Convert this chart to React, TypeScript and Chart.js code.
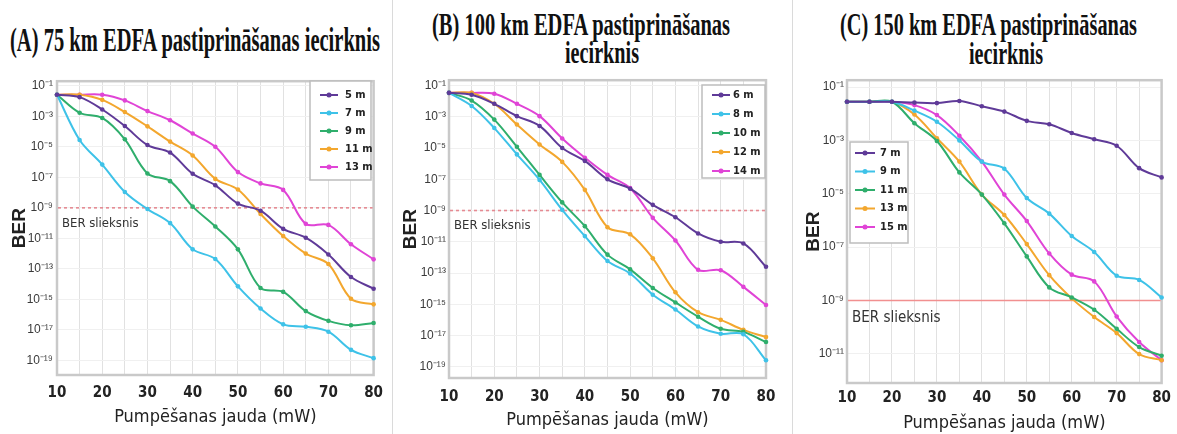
import React, { useEffect, useLayoutEffect, useRef } from 'react';
import { Chart, registerables } from 'chart.js';

Chart.register(...registerables);

// ---------- data ----------
const POWER_MW = [10, 15, 20, 25, 30, 35, 40, 45, 50, 55, 60, 65, 70, 75, 80];

const A_LABELS = ['5 m', '7 m', '9 m', '11 m', '13 m'];
const A_5M = [2.6e-2, 1.8e-2, 2.8e-3, 2.3e-4, 1.3e-5, 4.2e-6, 1.7e-7, 3.0e-8, 1.9e-9, 6.5e-10, 4.2e-11, 1.1e-11, 8.7e-13, 2.9e-14, 5.0e-15];
const A_7M = [2.6e-2, 2.8e-5, 6.8e-7, 1.1e-8, 8.3e-10, 1.0e-10, 1.9e-12, 4.4e-13, 7.1e-15, 2.5e-16, 2.3e-17, 1.6e-17, 7.6e-18, 4.9e-19, 1.4e-19];
const A_9M = [2.6e-2, 1.7e-3, 7.8e-4, 3.1e-5, 1.8e-7, 5.6e-8, 1.2e-9, 6.0e-11, 1.9e-12, 5.6e-15, 3.1e-15, 1.7e-16, 3.9e-17, 2.0e-17, 2.8e-17];
const A_11M = [2.6e-2, 2.6e-2, 1.2e-2, 1.9e-3, 2.2e-4, 2.2e-5, 2.7e-6, 7.9e-8, 1.6e-8, 3.9e-10, 1.4e-11, 1.0e-12, 2.1e-13, 1.1e-15, 4.7e-16];
const A_13M = [2.6e-2, 2.6e-2, 2.6e-2, 1.1e-2, 2.2e-3, 5.5e-4, 7.4e-5, 1.0e-5, 2.2e-7, 4.0e-8, 1.5e-8, 8.9e-11, 7.6e-11, 4.1e-12, 4.2e-13];

const B_LABELS = ['6 m', '8 m', '10 m', '12 m', '14 m'];
const B_6M = [3.4e-2, 2.6e-2, 6.8e-3, 1.1e-3, 2.6e-4, 1.0e-5, 1.5e-6, 1.0e-7, 2.5e-8, 2.3e-9, 3.7e-10, 3.4e-11, 1.0e-11, 7.8e-12, 2.5e-13];
const B_8M = [3.4e-2, 4.9e-3, 1.9e-4, 3.9e-6, 9.1e-8, 1.1e-9, 2.3e-11, 5.9e-13, 9.3e-14, 4.1e-15, 4.6e-16, 3.8e-17, 1.3e-17, 1.2e-17, 2.6e-19];
const B_10M = [3.4e-2, 1.1e-2, 6.6e-4, 1.2e-5, 1.9e-7, 3.3e-9, 1.0e-10, 1.5e-12, 1.7e-13, 1.1e-14, 1.3e-15, 1.6e-16, 2.7e-17, 1.7e-17, 3.8e-18];
const B_12M = [3.4e-2, 3.4e-2, 6.8e-3, 3.2e-4, 1.7e-5, 1.3e-6, 2.1e-8, 8.5e-11, 3.0e-11, 8.7e-13, 5.8e-15, 3.1e-16, 1.0e-16, 2.3e-17, 7.9e-18];
const B_14M = [3.4e-2, 3.4e-2, 3.0e-2, 6.8e-3, 1.1e-3, 4.1e-5, 2.4e-6, 1.9e-7, 2.7e-8, 3.4e-10, 1.2e-11, 1.6e-13, 1.5e-13, 1.3e-14, 8.9e-16];

const C_LABELS = ['7 m', '9 m', '11 m', '13 m', '15 m'];
const C_7M = [2.8e-2, 2.8e-2, 2.8e-2, 2.6e-2, 2.5e-2, 3.0e-2, 1.9e-2, 1.2e-2, 5.4e-3, 4.0e-3, 1.9e-3, 1.1e-3, 6.3e-4, 9.1e-5, 4.1e-5];
const C_9M = [2.8e-2, 2.8e-2, 2.8e-2, 1.3e-2, 5.0e-3, 1.0e-3, 1.6e-4, 8.7e-5, 6.9e-6, 1.8e-6, 2.6e-7, 6.6e-8, 8.5e-9, 5.9e-9, 1.3e-9];
const C_11M = [2.8e-2, 2.8e-2, 2.8e-2, 4.4e-3, 9.5e-4, 6.3e-5, 9.3e-6, 7.8e-7, 4.5e-8, 3.1e-9, 1.3e-9, 4.5e-10, 8.7e-11, 1.8e-11, 8.5e-12];
const C_13M = [2.8e-2, 2.8e-2, 2.8e-2, 9.3e-3, 1.2e-3, 1.6e-4, 9.3e-6, 1.6e-6, 1.3e-7, 8.9e-9, 1.2e-9, 2.4e-10, 6.0e-11, 9.8e-12, 5.8e-12];
const C_15M = [2.8e-2, 2.8e-2, 2.8e-2, 2.1e-2, 8.9e-3, 1.5e-3, 1.6e-4, 9.3e-6, 9.5e-7, 5.8e-8, 9.3e-9, 5.2e-9, 2.5e-10, 2.8e-11, 5.8e-12];

const Y_EXPONENTS_AB = [-1, -3, -5, -7, -9, -11, -13, -15, -17, -19];
const Y_EXPONENTS_C = [-1, -3, -5, -7, -9, -11];

const BER_THRESHOLD = 1e-9;
const THRESHOLD_LABEL = 'BER slieksnis';
const X_TITLE = 'Pumpēšanas jauda (mW)';
const Y_TITLE = 'BER';

const TITLE_A = '(A) 75 km EDFA pastiprināšanas iecirknis';
const TITLE_B1 = '(B) 100 km EDFA pastiprināšanas';
const TITLE_C1 = '(C) 150 km EDFA pastiprināšanas';
const TITLE_2 = 'iecirknis';

// ---------- styling ----------
const COLORS = ['#5f3a98', '#3ec2e8', '#2fae6c', '#f3a72e', '#e044d6'];
const NARROW = "'Liberation Sans Narrow', 'DejaVu Sans Condensed', 'Liberation Sans', sans-serif";
const SANS = "'Liberation Sans', Arial, sans-serif";
const SERIF = "'Liberation Serif', 'Times New Roman', serif";
const CANVAS_TOP = 70;
const CANVAS_H = 364;

const SUP: Record<string, string> = {
  '-': '\u207B', '0': '\u2070', '1': '\u00B9', '2': '\u00B2', '3': '\u00B3',
  '4': '\u2074', '5': '\u2075', '6': '\u2076', '7': '\u2077', '8': '\u2078', '9': '\u2079',
};
const sup = (n: number) => String(n).split('').map((c) => SUP[c] || c).join('');

type PanelCfg = {
  left: number;
  width: number;
  padTop: number;
  padRight: number;
  yAxisWidth: number;
  xAxisHeight: number;
  yMin: number;
  yMax: number;
  yExps: number[];
  yTickPad: number;
  yTitlePad: number;
  xTickPad: number;
  xTitlePad: number;
  labels: string[];
  series: number[][];
  threshDash: number[];
  threshLabelDy: number;
  threshLabelSize: number;
  legend: { x: number; y: number; w: number; h: number; firstY: number; step: number; x0: number; x1: number; tx: number };
};

const PANELS: PanelCfg[] = [
  {
    left: 0, width: 392, padTop: 7, padRight: 16, yAxisWidth: 57, xAxisHeight: 59,
    yMin: 1.1e-20, yMax: 2.0e-1, yExps: Y_EXPONENTS_AB, yTickPad: 4, yTitlePad: 8,
    xTickPad: 9, xTitlePad: 6,
    labels: A_LABELS, series: [A_5M, A_7M, A_9M, A_11M, A_13M],
    threshDash: [3, 3], threshLabelDy: 16, threshLabelSize: 13,
    legend: { x: 310, y: 11, w: 61, h: 99, firstY: 25, step: 18, x0: 320, x1: 338, tx: 345 },
  },
  {
    left: 393, width: 397, padTop: 8, padRight: 24, yAxisWidth: 56, xAxisHeight: 56,
    yMin: 1.9e-20, yMax: 2.2e-1, yExps: Y_EXPONENTS_AB, yTickPad: 3, yTitlePad: 6,
    xTickPad: 10, xTitlePad: 3,
    labels: B_LABELS, series: [B_6M, B_8M, B_10M, B_12M, B_14M],
    threshDash: [3, 3], threshLabelDy: 15, threshLabelSize: 13,
    legend: { x: 309, y: 15, w: 63, h: 93, firstY: 25, step: 19, x0: 319, x1: 337, tx: 340 },
  },
  {
    left: 793, width: 384, padTop: 8, padRight: 12, yAxisWidth: 54, xAxisHeight: 51,
    yMin: 8.1e-13, yMax: 1.8e-1, yExps: Y_EXPONENTS_C, yTickPad: 3, yTitlePad: 9,
    xTickPad: 6, xTitlePad: 0,
    labels: C_LABELS, series: [C_7M, C_9M, C_11M, C_13M, C_15M],
    threshDash: [], threshLabelDy: 18, threshLabelSize: 15,
    legend: { x: 57, y: 72, w: 58, h: 101, firstY: 83, step: 18.5, x0: 62, x1: 82, tx: 87 },
  },
];

function makeDecor(cfg: PanelCfg) {
  return {
    id: 'panelDecor',
    beforeDatasetsDraw(chart: any) {
      const { ctx, chartArea, scales } = chart;
      ctx.save();
      ctx.strokeStyle = '#c9c9c9';
      ctx.lineWidth = 2.5;
      ctx.strokeRect(chartArea.left, chartArea.top, chartArea.right - chartArea.left, chartArea.bottom - chartArea.top);
      const y = scales.y.getPixelForValue(BER_THRESHOLD);
      ctx.strokeStyle = cfg.threshDash.length ? '#e58a92' : '#f19090';
      ctx.lineWidth = 1.6;
      ctx.setLineDash(cfg.threshDash);
      ctx.beginPath();
      ctx.moveTo(chartArea.left + 1, y);
      ctx.lineTo(chartArea.right - 1, y);
      ctx.stroke();
      ctx.setLineDash([]);
      ctx.fillStyle = '#333';
      ctx.font = `${cfg.threshLabelSize}px ${NARROW}`;
      ctx.textBaseline = 'middle';
      ctx.textAlign = 'left';
      ctx.fillText(THRESHOLD_LABEL, chartArea.left + 5, y + cfg.threshLabelDy);
      ctx.restore();
    },
    afterDatasetsDraw(chart: any) {
      const { ctx } = chart;
      const L = cfg.legend;
      ctx.save();
      ctx.fillStyle = '#ffffff';
      ctx.fillRect(L.x, L.y, L.w, L.h);
      ctx.strokeStyle = '#bdbdbd';
      ctx.lineWidth = 1.5;
      ctx.strokeRect(L.x, L.y, L.w, L.h);
      chart.data.datasets.forEach((ds: any, i: number) => {
        const yy = L.firstY + i * L.step;
        ctx.strokeStyle = ds.borderColor;
        ctx.lineWidth = 2;
        ctx.beginPath();
        ctx.moveTo(L.x0, yy);
        ctx.lineTo(L.x1, yy);
        ctx.stroke();
        ctx.fillStyle = ds.borderColor;
        ctx.beginPath();
        ctx.arc((L.x0 + L.x1) / 2, yy, 2.5, 0, Math.PI * 2);
        ctx.fill();
        ctx.fillStyle = '#222';
        ctx.font = `bold 11px ${NARROW}`;
        ctx.textBaseline = 'middle';
        ctx.textAlign = 'left';
        ctx.fillText(ds.label, L.tx, yy);
      });
      ctx.restore();
    },
  };
}

function Panel({ cfg }: { cfg: PanelCfg }) {
  const ref = useRef<HTMLCanvasElement>(null);
  useEffect(() => {
    const chart = new Chart(ref.current as HTMLCanvasElement, {
      type: 'line',
      data: {
        datasets: cfg.labels.map((label, i) => ({
          label,
          data: POWER_MW.map((x, j) => ({ x, y: cfg.series[i][j] })),
          borderColor: COLORS[i],
          backgroundColor: COLORS[i],
          borderWidth: 2,
          pointRadius: 2.3,
          pointBorderWidth: 0,
          pointHoverRadius: 2.3,
          tension: 0.35,
          clip: false as any,
        })),
      },
      options: {
        animation: false,
        responsive: false,
        devicePixelRatio: 1,
        layout: { padding: { top: cfg.padTop, right: cfg.padRight, left: 0, bottom: 0 } },
        plugins: { legend: { display: false }, title: { display: false }, tooltip: { enabled: false } },
        scales: {
          x: {
            type: 'linear',
            min: 10,
            max: 80,
            afterFit: (s: any) => { s.height = cfg.xAxisHeight; },
            ticks: {
              stepSize: 5,
              autoSkip: false,
              maxRotation: 0,
              padding: cfg.xTickPad,
              color: '#222',
              font: { family: NARROW, size: 15, weight: 'bold' },
              callback: (v: any) => (Number(v) % 10 === 0 ? String(v) : ''),
            },
            grid: { color: '#e1e1e1', lineWidth: 1, drawTicks: false },
            border: { display: false },
            title: {
              display: true,
              text: X_TITLE,
              color: '#222',
              font: { family: NARROW, size: 18 },
              padding: { top: 0, bottom: cfg.xTitlePad },
            },
          },
          y: {
            type: 'logarithmic',
            min: cfg.yMin,
            max: cfg.yMax,
            afterFit: (s: any) => { s.width = cfg.yAxisWidth; },
            afterBuildTicks: (s: any) => { s.ticks = cfg.yExps.map((e) => ({ value: Math.pow(10, e) })); },
            ticks: {
              autoSkip: false,
              padding: cfg.yTickPad,
              color: '#3a3a3a',
              font: { family: SANS, size: 12 },
              callback: (v: any) => '10' + sup(Math.round(Math.log10(Number(v)))),
            },
            grid: { color: '#f0f0f0', lineWidth: 1, drawTicks: false },
            border: { display: false },
            title: {
              display: true,
              text: Y_TITLE,
              color: '#222',
              font: { family: SANS, size: 19, weight: 'bold' },
              padding: { top: cfg.yTitlePad, bottom: 0 },
            },
          },
        },
      } as any,
      plugins: [makeDecor(cfg)],
    });
    return () => chart.destroy();
  }, [cfg]);
  return (
    <canvas
      ref={ref}
      width={cfg.width}
      height={CANVAS_H}
      style={{ position: 'absolute', left: cfg.left, top: CANVAS_TOP, width: cfg.width, height: CANVAS_H }}
    />
  );
}

function TitleLine({ text, x, width, baseline, size, centered }: { text: string; x: number; width: number; baseline: number; size: number; centered?: boolean }) {
  const ref = useRef<HTMLSpanElement>(null);
  useLayoutEffect(() => {
    const el = ref.current;
    if (!el) return;
    el.style.transform = 'none';
    const w = el.getBoundingClientRect().width;
    const s = width / w;
    el.style.left = (centered ? x - width / 2 : x) + 'px';
    el.style.transform = `scaleX(${s})`;
  }, [text, x, width, size, centered]);
  return (
    <span
      ref={ref}
      style={{
        position: 'absolute',
        left: x,
        top: baseline - size * 0.8375,
        whiteSpace: 'nowrap',
        fontFamily: SERIF,
        fontWeight: 'bold',
        fontSize: size,
        lineHeight: `${size}px`,
        color: '#111',
        transformOrigin: '0 0',
      }}
    >
      {text}
    </span>
  );
}

export default function App() {
  return (
    <div style={{ position: 'fixed', left: 0, top: 0, width: 1177, height: 434, background: '#fff', overflow: 'hidden' }}>
      <div style={{ position: 'absolute', left: 392, top: 0, width: 1, height: 434, background: '#dadada' }} />
      <div style={{ position: 'absolute', left: 792, top: 0, width: 1, height: 434, background: '#dadada' }} />
      <TitleLine text={TITLE_A} x={10} width={370} baseline={52} size={33} />
      <TitleLine text={TITLE_B1} x={432} width={298} baseline={35} size={32} />
      <TitleLine text={TITLE_2} x={602} width={74} baseline={63} size={32} centered />
      <TitleLine text={TITLE_C1} x={840} width={297} baseline={35} size={32} />
      <TitleLine text={TITLE_2} x={1006} width={74} baseline={64} size={32} centered />
      {PANELS.map((p, i) => (
        <Panel key={i} cfg={p} />
      ))}
    </div>
  );
}
